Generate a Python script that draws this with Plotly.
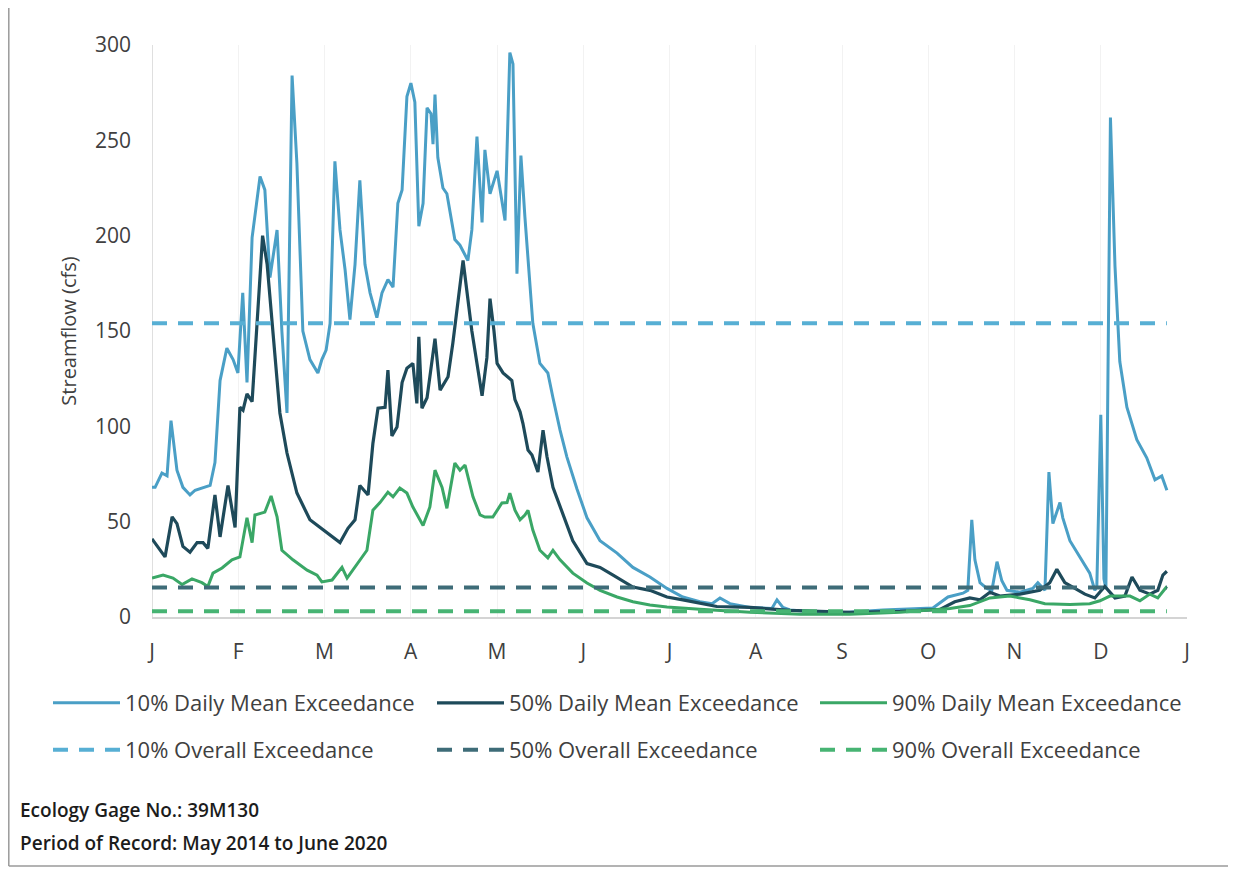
import plotly.graph_objects as go

# ---- data (day of year, streamflow cfs) ----
month_labels = ["J", "F", "M", "A", "M", "J", "J", "A", "S", "O", "N", "D", "J"]

p10_days = [0, 1.1, 3.5, 5.3, 6.7, 8.8, 10.9, 13.4, 15.2, 18.0, 20.5, 22.2, 24.0, 26.4, 28.6, 30.3,
            32.0, 33.5, 35.3, 38.1, 39.8, 41.6, 42.7, 44.1, 45.8, 47.6, 49.4, 51.1, 53.2, 55.7, 58.5,
            59.9, 61.4, 62.8, 64.5, 66.3, 68.1, 69.8, 71.6, 73.3, 75.1, 76.9, 79.3, 81.1, 83.2, 85.0,
            86.7, 88.2, 89.9, 91.3, 92.7, 94.1, 95.6, 97.0, 98.4, 99.1, 99.8, 100.8, 102.6, 104.0,
            106.8, 108.6, 111.4, 112.8, 114.6, 116.4, 117.4, 119.2, 121.7, 124.5, 126.2, 127.3, 128.7,
            130.1, 131.5, 133.3, 134.3, 136.8, 139.6, 141.4, 143.9, 146.3, 149.9, 153.4, 158.0, 164.0,
            169.6, 175.6, 181.6, 187.2, 193.2, 197.5, 200.3, 203.8, 210.9, 218.6, 220.4, 222.5, 225.0,
            240.2, 257.8, 275.4, 280.7, 286.0, 287.7, 289.1, 290.2, 292.0, 294.4, 296.2, 298.0, 299.7,
            301.5, 306.1, 310.6, 312.4, 314.9, 316.3, 317.7, 320.2, 321.2, 323.7, 327.2, 330.7, 332.5,
            333.2, 334.6, 335.7, 336.4, 338.0, 339.6, 341.3, 343.8, 347.3, 350.8, 353.7, 356.1, 357.9]
p10_vals = [68, 68, 75.5, 74, 103, 77, 68, 64, 66.5, 68, 69, 81, 124, 141, 135, 128,
            170, 123, 199, 231, 224, 178, 189, 203, 150, 107, 284, 238, 150, 135, 128,
            135, 140, 154, 239, 203, 182, 156, 185, 229, 185, 170, 157, 170, 177, 173,
            217, 224, 273, 280, 270, 205, 217, 267, 264, 248, 274, 241, 225, 222,
            198, 195, 187, 203, 252, 207, 245, 222, 234, 208, 296, 290, 180,
            242, 210, 171, 154, 133, 128, 115, 98, 84, 67, 52, 40, 33.5,
            26, 21, 15, 10.5, 8, 7, 10, 7, 5, 4.5, 9, 5, 3.7,
            2, 3.7, 4.7, 10.5, 12.5, 14, 51, 30, 18, 15, 14, 29, 19,
            14, 13, 15, 18, 14, 76, 49, 60, 52, 40, 31.5, 23, 14,
            16, 106, 20, 15, 262, 184, 134, 110, 93, 83.5, 72, 74, 66.5]

p50_days = [0, 4.6, 7.1, 8.8, 10.9, 13.4, 15.9, 18.0, 19.7, 22.2, 24.0, 26.8, 29.3, 31.0, 32.1,
            33.5, 35.3, 39.0, 40.6, 42.7, 45.1, 47.6, 51.1, 55.7, 59.2, 62.8, 66.3, 69.1, 71.6, 73.3,
            76.2, 77.9, 79.7, 82.2, 83.2, 84.6, 86.4, 88.2, 89.9, 92.0, 93.4, 94.1, 95.2, 97.0, 99.8,
            101.6, 104.4, 106.1, 109.7, 112.8, 116.4, 118.1, 119.2, 120.6, 121.7, 123.8, 126.9, 128.0,
            129.8, 130.8, 132.6, 134.0, 136.1, 137.9, 139.3, 141.4, 144.9, 148.4, 153.4, 158.0, 162.6,
            169.6, 175.6, 181.6, 187.2, 193.2, 199.2, 210.9, 225.0, 246.1, 263.8, 277.9, 283.1, 288.4,
            292.0, 295.5, 299.0, 306.1, 313.1, 316.6, 319.1, 321.9, 325.5, 329.0, 332.5, 336.0, 339.6,
            343.1, 345.6, 348.4, 351.9, 354.7, 356.5, 357.9]
p50_vals = [41, 31.5, 52.5, 49, 37, 34, 39, 39, 36, 64, 42, 69, 47, 110, 108.5,
            117, 113, 200, 185, 150, 107, 86, 65, 51, 47, 43, 39, 46.5, 51, 69,
            64, 91, 109.5, 110, 129.5, 95, 99.6, 123, 130.5, 133, 112, 147, 109.5, 115, 146,
            119, 126, 143.7, 187, 150, 116, 136, 167, 150, 133, 128, 124, 114,
            107.6, 101.6, 87.6, 85, 76, 98, 84, 68, 53.5, 40, 28, 26, 22,
            15.7, 14, 10.5, 9, 7.3, 5.5, 5, 3.5, 2.5, 3, 4, 8, 10,
            9, 13, 11, 12, 14, 18, 25, 18, 15, 12, 10, 16, 10,
            11, 21, 14, 12, 14, 22, 24]

p90_days = [0, 3.9, 7.4, 10.6, 14.1, 17.6, 19.7, 21.5, 24.7, 28.2, 31.0, 33.5, 35.3, 36.3, 39.8,
            42.0, 44.1, 45.8, 49.7, 54.7, 58.2, 59.9, 63.5, 67.0, 68.8, 72.3, 75.8, 77.9, 80.4, 83.2,
            85.0, 87.4, 89.9, 92.0, 95.6, 98.0, 99.8, 102.3, 104.0, 106.8, 108.6, 110.4, 113.2, 115.7,
            117.4, 120.2, 123.4, 125.2, 126.2, 128.0, 129.8, 131.5, 132.6, 134.3, 136.8, 139.6, 141.4,
            143.9, 148.4, 153.4, 158.0, 164.0, 169.6, 175.6, 181.6, 193.2, 210.9, 228.6, 246.1, 263.8,
            281.4, 288.4, 295.5, 302.5, 309.6, 314.9, 323.7, 330.7, 334.3, 337.8, 344.9, 348.4, 351.9,
            354.7, 357.9]
p90_vals = [20.4, 22, 20.4, 17, 20, 18, 16, 23, 25.7, 30, 31.5, 52, 39, 53.5, 55,
            63.5, 52.5, 35, 30, 24.6, 22, 18.4, 19.4, 26, 20.4, 28, 35, 56, 60, 65.5,
            63, 67.6, 65, 57.7, 48, 57.7, 77, 68, 57, 80.7, 77, 79.7, 63, 53.5,
            52.4, 52.4, 59.8, 60, 65, 56, 51, 53.5, 56, 45.6, 35, 31, 35,
            30, 23, 17.8, 14, 10.5, 8, 6.3, 5.2, 4, 2.5, 1.5, 1.5, 2.5,
            4.5, 6, 10, 11, 9, 7, 6.5, 7, 8.5, 11, 11, 8.5, 12,
            10, 16]

overall_10 = 154
overall_50 = 15.5
overall_90 = 3

series_names = ["10% Daily Mean Exceedance", "50% Daily Mean Exceedance", "90% Daily Mean Exceedance",
                "10% Overall Exceedance", "50% Overall Exceedance", "90% Overall Exceedance"]

# ---- styling ----
C10 = "#4a9fc6"
C50 = "#1e4a5a"
C90 = "#3aa766"
C10d = "#57afd4"
C50d = "#3e6c78"
C90d = "#47b473"
FONT = "Open Sans"
TXT = "#404040"

OFF = 8  # page body margin
W, H = 1236 - OFF, 869 - OFF
L, R, T, B = 152 - OFF, 49, 45 - OFF, 252
pw, ph = W - L - R, H - T - B


def px_x(x):  # reference page pixel -> paper
    return (x - OFF - L) / pw


def px_y(y):
    return (H - B - (y - OFF)) / ph


fig = go.Figure()

dash = "15px,11px"
specs = [
    (p10_days, p10_vals, C10, 3, None),
    (p50_days, p50_vals, C50, 3.2, None),
    (p90_days, p90_vals, C90, 3, None),
]
x_span = [p10_days[0], p10_days[-1]]
specs += [
    (x_span, [overall_10] * 2, C10d, 4, dash),
    (x_span, [overall_50] * 2, C50d, 4, dash),
    (x_span, [overall_90] * 2, C90d, 4, dash),
]
legend_ids = ["legend", "legend2", "legend3", "legend4", "legend5", "legend6"]
for i, (xs, ys, col, w, d) in enumerate(specs):
    fig.add_trace(go.Scatter(x=xs, y=ys, mode="lines", name=series_names[i],
                             line=dict(color=col, width=w, dash=d), legend=legend_ids[i]))

tickvals = [k * 365 / 12 for k in range(13)]

col_x = [48, 432, 815]
row_y = [703, 750]
legend_layout = {}
for i, lid in enumerate(legend_ids):
    legend_layout[lid] = dict(orientation="h", xanchor="left", yanchor="middle",
                              x=px_x(col_x[i % 3]), y=px_y(row_y[i // 3]),
                              itemwidth=67,
                              font=dict(family=FONT, size=22, color=TXT),
                              bgcolor="rgba(0,0,0,0)", itemclick=False, itemdoubleclick=False)

fig.update_layout(
    width=W, height=H,
    margin=dict(l=L, r=R, t=T, b=B, autoexpand=False),
    paper_bgcolor="white", plot_bgcolor="white",
    font=dict(family=FONT, color=TXT),
    showlegend=True,
    xaxis=dict(range=[0, 365], tickmode="array", tickvals=tickvals, ticktext=month_labels,
               showgrid=True, gridcolor="#f2f2f2", gridwidth=1,
               showline=True, linecolor="#d4d4d4", linewidth=1.5,
               ticks="", ticklabelstandoff=15, zeroline=False,
               tickfont=dict(family=FONT, size=21, color=TXT)),
    yaxis=dict(range=[0, 300], tickvals=[0, 50, 100, 150, 200, 250, 300],
               showgrid=False, zeroline=False,
               showline=False, ticks="", ticklabelstandoff=20,
               tickfont=dict(family=FONT, size=21, color=TXT),
               title=dict(text="Streamflow (cfs)", standoff=12,
                          font=dict(family=FONT, size=20, color=TXT))),
    **legend_layout,
)

# left y axis line (light gray, as in reference)
fig.add_shape(type="line", xref="x", yref="paper", x0=0, x1=0, y0=0, y1=1,
              line=dict(color="#d4d4d4", width=1.5), layer="below")

# outer frame (left, right, bottom)
fl, fr, fb, ft = px_x(OFF + 0.8), px_x(1233), px_y(866), px_y(OFF)
for (x0, y0, x1, y1) in [(fl, fb, fl, ft), (fr, fb, fr, ft), (fl, fb, fr, fb)]:
    fig.add_shape(type="line", xref="paper", yref="paper", x0=x0, y0=y0, x1=x1, y1=y1,
                  line=dict(color="#9a9a9a", width=1.5))

for txt, yy in [("Ecology Gage No.: 39M130", 810), ("Period of Record: May 2014 to June 2020", 843)]:
    fig.add_annotation(x=px_x(18), y=px_y(yy), xref="paper", yref="paper", xanchor="left",
                       yanchor="middle", showarrow=False, text=txt,
                       font=dict(family=FONT, size=19, color="#1c1c1c", weight=600))

fig.write_html("out.html")
